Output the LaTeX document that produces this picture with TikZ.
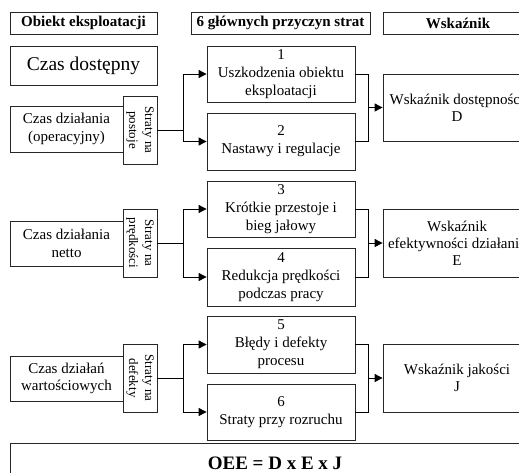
\documentclass[tikz,border=0pt]{standalone}
\usepackage{fontspec}
\setmainfont{Liberation Serif}
\usetikzlibrary{arrows.meta}
\begin{document}
\begin{tikzpicture}[x=1pt,y=-1pt,
  box/.style={draw=black!85, line width=0.8pt, inner sep=0pt, align=center, fill=white},
  hdr/.style={box, minimum height=22pt, font=\bfseries\fontsize{15}{18}\selectfont},
  lbox/.style={box, minimum width=113pt, minimum height=45pt, font=\fontsize{15}{17.5}\selectfont},
  sbox/.style={box, minimum width=34pt, minimum height=68pt},
  stxt/.style={rotate=-90, inner sep=0pt, align=center, font=\fontsize{13}{16}\selectfont},
  cbox/.style={box, minimum width=148pt, font=\fontsize{15}{18}\selectfont},
  wbox/.style={box, minimum width=148pt, minimum height=67pt, font=\fontsize{15}{17}\selectfont},
  conn/.style={draw=black, line width=0.9pt},
  arr/.style={conn, -{Triangle[length=8pt,width=8pt]}}]
\useasboundingbox (0,0) rectangle (519,472);
\clip (0,0) rectangle (519,472);
% headers
\node[hdr, minimum width=147pt] (h1) at (83.5,23) {Obiekt eksploatacji};
\node[hdr, minimum width=179pt] (h2) at (280.5,23) {6 głównych przyczyn strat};
\node[hdr, minimum width=150pt] (h3) at (458,23) {Wskaźnik};
% left column
\node[box, minimum width=147pt, minimum height=39pt, font=\fontsize{19.5}{22}\selectfont] (dost) at (83.5,65.5) {Czas dostępny};
\node[lbox, minimum height=46pt] (op) at (66.5,129) {Czas działania\\(operacyjny)};
\node[lbox] (netto) at (66.5,243.5) {Czas działania\\netto};
\node[lbox] (wart) at (66.5,378.5) {Czas działań\\wartościowych};
% loss boxes
\node[sbox] (s1) at (140,130) {};
\node[stxt] (s1t) at (s1.center) {Straty na\\postoje};
\node[sbox] (s2) at (140,243) {};
\node[stxt] (s2t) at (s2.center) {Straty na\\prędkości};
\node[sbox] (s3) at (140,378) {};
\node[stxt] (s3t) at (s3.center) {Straty na\\defekty};
% causes
\node[cbox, minimum height=56pt] (c1) at (281,74) {1\\Uszkodzenia obiektu\\eksploatacji};
\node[cbox, minimum height=57pt] (c2) at (281,141.5) {2\\Nastawy i regulacje};
\node[cbox, minimum height=56pt] (c3) at (281,209) {3\\Krótkie przestoje i\\bieg jałowy};
\node[cbox, minimum height=58pt] (c4) at (281,277) {4\\Redukcja prędkości\\podczas pracy};
\node[cbox, minimum height=57pt] (c5) at (281,344.5) {5\\Błędy i defekty\\procesu};
\node[cbox, minimum height=56pt] (c6) at (281,412) {6\\Straty przy rozruchu};
% indicators
\node[wbox] (D) at (457,107.5) {Wskaźnik dostępności\\D};
\node[wbox, minimum height=68pt] (E) at (457,243) {Wskaźnik\\efektywności działania\\E};
\node[wbox, minimum height=68pt] (J) at (457,378) {Wskaźnik jakości\\J};
% OEE
\node[box, minimum width=530pt, minimum height=40pt, font=\bfseries\fontsize{19}{22}\selectfont] (oee) at (275,463) {OEE = D x E x J};
% left connectors
\coordinate (j1) at (183,130);
\coordinate (j2) at (183,243);
\coordinate (j3) at (183,378);
\draw[conn] (s1.east) -- (j1);
\draw[arr] (j1) |- (c1.west);
\draw[arr] (j1) |- (c2.west);
\draw[conn] (s2.east) -- (j2);
\draw[arr] (j2) |- (c3.west);
\draw[arr] (j2) |- (c4.west);
\draw[conn] (s3.east) -- (j3);
\draw[arr] (j3) |- (c5.west);
\draw[arr] (j3) |- (c6.west);
% right connectors
\coordinate (k1) at (368,107.5);
\coordinate (k2) at (368,243);
\coordinate (k3) at (368,378);
\draw[conn] (c1.east) -| (k1);
\draw[conn] (c2.east) -| (k1);
\draw[arr] (k1) -- (D.west);
\draw[conn] (c3.east) -| (k2);
\draw[conn] (c4.east) -| (k2);
\draw[arr] (k2) -- (E.west);
\draw[conn] (c5.east) -| (k3);
\draw[conn] (c6.east) -| (k3);
\draw[arr] (k3) -- (J.west);
\end{tikzpicture}
\end{document}
